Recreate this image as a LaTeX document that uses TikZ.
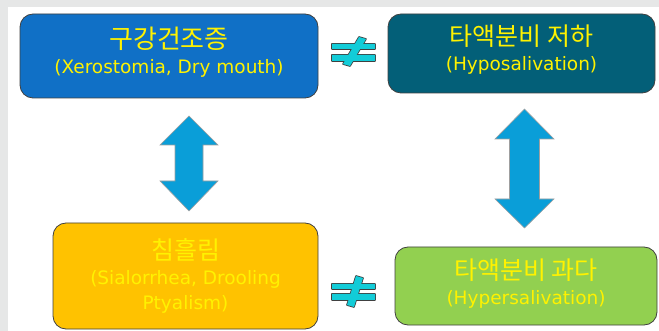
\documentclass[tikz,border=0pt]{standalone}
\usepackage{fontspec}
\setmainfont{DejaVu Sans}
\newfontfamily\krfont{Noto Sans CJK KR}
\definecolor{xeroblue}{HTML}{1070C6}
\definecolor{hypoteal}{HTML}{035F78}
\definecolor{sialoyellow}{HTML}{FFC200}
\definecolor{hypergreen}{HTML}{92D050}
\definecolor{arrowblue}{HTML}{0A9ED8}
\definecolor{neqcyan}{HTML}{12CCD8}
\definecolor{pagegray}{HTML}{E6E7E7}
\definecolor{boxline}{HTML}{404040}
\begin{document}
\begin{tikzpicture}[x=1pt, y=-1pt,
    box/.style={draw=boxline, line width=0.8pt, rounded corners=13pt, inner sep=0pt},
    boxtext/.style={text=yellow, align=center, inner sep=0pt, font=\fontsize{18.5}{25}\selectfont},
    dblarrow/.style={fill=arrowblue, draw=gray!75, line width=0.6pt},
    neqline/.style={draw=boxline, line width=1.6pt, line join=round},
    neqfill/.style={fill=neqcyan},
]
\useasboundingbox (0,0) rectangle (659,331);
\fill[white] (0,0) rectangle (659,331);
\fill[pagegray] (0,0) rectangle (659,7);
\fill[pagegray] (0,0) rectangle (8,331);

\node[box, fill=xeroblue, minimum width=298pt, minimum height=84pt] (xero) at (169,56) {};
\node[box, fill=hypoteal, minimum width=267pt, minimum height=79pt] (hypo) at (521.5,53.5) {};
\node[box, fill=sialoyellow, minimum width=265pt, minimum height=106pt] (sialo) at (185.5,276) {};
\node[box, fill=hypergreen, minimum width=262pt, minimum height=78pt] (hyper) at (526,286) {};

\node[boxtext] (xerotext) at ([yshift=4pt]xero.center)
    {{\krfont\fontsize{26}{28}\selectfont 구강건조증}\\(Xerostomia, Dry mouth)};
\node[boxtext] (hypotext) at ([yshift=3.5pt]hypo.center)
    {{\krfont\fontsize{25}{28}\selectfont 타액분비 저하}\\(Hyposalivation)};
\node[boxtext] (sialotext) at (sialo.center)
    {{\krfont\fontsize{25}{28}\selectfont 침흘림}\\(Sialorrhea, Drooling\\Ptyalism)};
\node[boxtext] (hypertext) at ([yshift=2pt]hyper.center)
    {{\krfont\fontsize{25}{28}\selectfont 타액분비 과다}\\(Hypersalivation)};

% double arrows
\draw[dblarrow] (189,116) -- (218,145) -- (203,145) -- (203,181) -- (218,181) -- (189,211)
    -- (160,181) -- (175,181) -- (175,145) -- (160,145) -- cycle;
\draw[dblarrow] (524.5,109) -- (554,139) -- (539.5,139) -- (539.5,199) -- (554,199) -- (524.5,228)
    -- (495,199) -- (509.5,199) -- (509.5,139) -- (495,139) -- cycle;

% not-equal signs
\path[neqline] (332,44) rectangle (375,49) (332,55) rectangle (375,61);
\path[neqline] (332,284) rectangle (375,289) (332,294) rectangle (375,300);
\path[neqline] (359,37) -- (366,39) -- (350,66) -- (343,64) -- cycle;
\path[neqline] (356,276) -- (363,278) -- (354,307) -- (347,305) -- cycle;
\path[neqfill] (332,44) rectangle (375,49) (332,55) rectangle (375,61);
\path[neqfill] (332,284) rectangle (375,289) (332,294) rectangle (375,300);
\path[neqfill] (359,37) -- (366,39) -- (350,66) -- (343,64) -- cycle;
\path[neqfill] (356,276) -- (363,278) -- (354,307) -- (347,305) -- cycle;
\end{tikzpicture}
\end{document}
